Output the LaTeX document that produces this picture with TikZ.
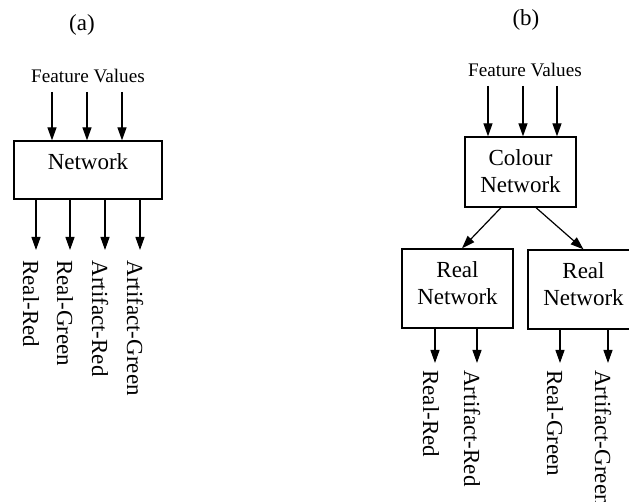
\documentclass[tikz,border=0pt]{standalone}
\usepackage{fontspec}
\setmainfont{Liberation Serif}
\usetikzlibrary{arrows.meta}

\begin{document}
\begin{tikzpicture}[x=0.5pt, y=-0.5pt,
	box/.style = {draw, line width=0.65pt, inner sep=0pt, align=center, font=\fontsize{11.5}{13.5}\selectfont},
	arr/.style = {line width=0.6pt, -{Triangle[length=6.5pt,width=4.5pt]}},
	feat/.style = {anchor=base, inner sep=0pt, font=\fontsize{9.6}{11}\selectfont},
	outlab/.style = {rotate=-90, anchor=west, inner sep=0pt, font=\fontsize{11.5}{13.5}\selectfont},
	panel/.style = {inner sep=0pt, font=\fontsize{11.5}{13.5}\selectfont}]
	\useasboundingbox (0,0) rectangle (629,502);

	\node[panel] (ta) at (82,25) {(a)};
	\node[feat] (fva) at (88,83) {Feature Values};
	\node[box, minimum width=74pt, text height=14.5pt, text depth=14.5pt] (net) at (88,170) {Network};
	\coordinate (ia1) at (52,92);
	\coordinate (ia2) at (87,92);
	\coordinate (ia3) at (122,92);
	\draw[arr] (ia1) -- (ia1 |- net.north);
	\draw[arr] (ia2) -- (ia2 |- net.north);
	\draw[arr] (ia3) -- (ia3 |- net.north);
	\coordinate (oa1) at (36,250);
	\coordinate (oa2) at (70,250);
	\coordinate (oa3) at (105,250);
	\coordinate (oa4) at (140,250);
	\draw[arr] (oa1 |- net.south) -- (oa1);
	\draw[arr] (oa2 |- net.south) -- (oa2);
	\draw[arr] (oa3 |- net.south) -- (oa3);
	\draw[arr] (oa4 |- net.south) -- (oa4);
	\node[outlab] (la1) at (31,260) {Real-Red};
	\node[outlab] (la2) at (65,260) {Real-Green};
	\node[outlab] (la3) at (100,260) {Artifact-Red};
	\node[outlab] (la4) at (135,260) {Artifact-Green};

	\node[panel] (tb) at (526,20) {(b)};
	\node[feat] (fvb) at (525,77) {Feature Values};
	\node[box, minimum width=55.5pt, text height=28pt, text depth=7pt] (cnet) at (520.5,172) {Colour\\Network};
	\coordinate (ib1) at (488,86);
	\coordinate (ib2) at (523,86);
	\coordinate (ib3) at (557,86);
	\draw[arr] (ib1) -- (ib1 |- cnet.north);
	\draw[arr] (ib2) -- (ib2 |- cnet.north);
	\draw[arr] (ib3) -- (ib3 |- cnet.north);
	\node[box, minimum width=55.5pt, text height=28pt, text depth=11.5pt] (rnl) at (457.5,288.5) {Real\\Network};
	\node[box, minimum width=55.5pt, text height=28pt, text depth=11.5pt] (rnr) at (583.5,289.5) {Real\\Network};
	\draw[arr] ([xshift=-9.75pt]cnet.south) -- ([xshift=2.25pt]rnl.north);
	\draw[arr] ([xshift=7.75pt]cnet.south) -- (rnr.north);
	\coordinate (ob1) at (435,363);
	\coordinate (ob2) at (477,363);
	\coordinate (ob3) at (560,363);
	\coordinate (ob4) at (608,363);
	\draw[arr] (ob1 |- rnl.south) -- (ob1);
	\draw[arr] (ob2 |- rnl.south) -- (ob2);
	\draw[arr] (ob3 |- rnr.south) -- (ob3);
	\draw[arr] (ob4 |- rnr.south) -- (ob4);
	\node[outlab] (lb1) at (431,370) {Real-Red};
	\node[outlab] (lb2) at (472,370) {Artifact-Red};
	\node[outlab] (lb3) at (555,370) {Real-Green};
	\node[outlab] (lb4) at (603,370) {Artifact-Green};
\end{tikzpicture}
\end{document}
